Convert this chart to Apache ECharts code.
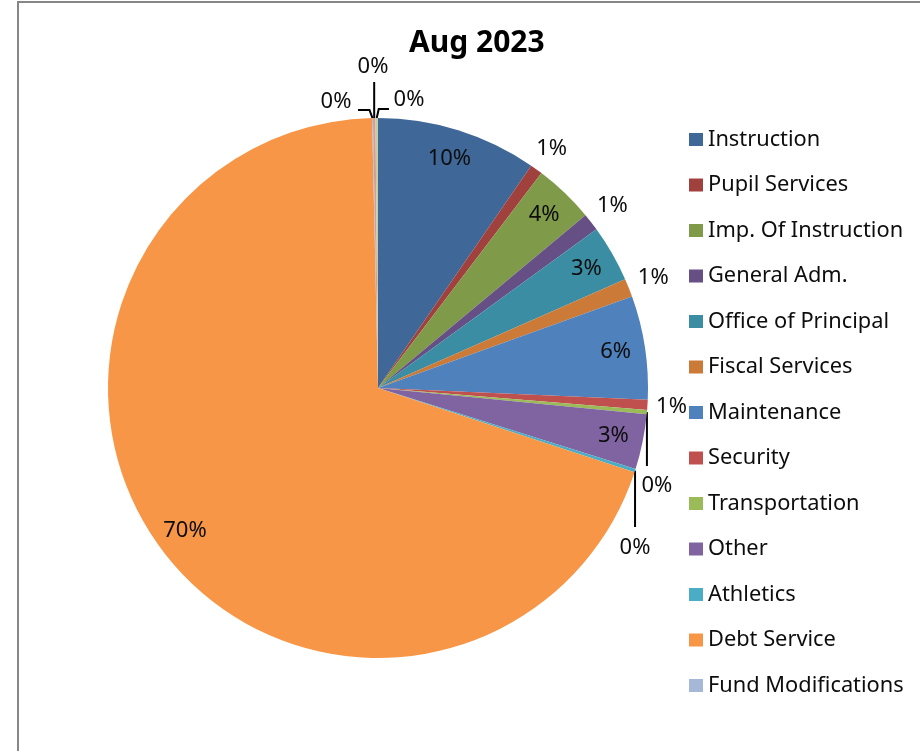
<!DOCTYPE html>
<html><head><meta charset="utf-8">
<script src="https://cdn.jsdelivr.net/npm/echarts@6/dist/echarts.min.js"></script>
<style>html,body{margin:0;padding:0;background:#fff}#c{width:920px;height:751px}</style>
</head><body><div id="c"></div>
<script>
const chartTitle = 'Aug 2023';
const categories = ['Instruction','Pupil Services','Imp. Of Instruction','General Adm.','Office of Principal','Fiscal Services','Maintenance','Security','Transportation','Other','Athletics','Debt Service','Fund Modifications','Unlisted A','Unlisted B'];
const values = [9.6, 0.75, 3.6, 1.05, 3.4, 1.1, 6.2, 0.6, 0.25, 3.3, 0.2, 69.6, 0.05, 0.15, 0.15];
const legendCategories = categories.slice(0, 13);
const colors = ['#3F6797','#A0413D','#7F9A48','#654F85','#3A8DA2','#CC7A38','#4F81BD','#C0504D','#9BBB59','#8064A2','#4BACC6','#F79646','#A5B8D8','#D99A98','#C3D09E'];

const CX = 378, CY = 388, R = 270;
const total = values.reduce((a, b) => a + b, 0);
const mids = []; let acc = 0;
values.forEach(v => { mids.push((acc + v / 2) / total * 2 * Math.PI); acc += v; });
function pt(a, d) { return [CX + Math.sin(a) * d, CY - Math.cos(a) * d]; }

const insideIdx = [0, 2, 4, 6, 9, 11];
const lineIdx = [8, 10, 12, 13, 14];

function placement(i, w, h) {
  const e = pt(mids[i], R);
  if (insideIdx.includes(i)) return { c: pt(mids[i], R * 0.89) };
  if (i === 8) return { c: [e[0] + 10, CY + 98], line: [e, [e[0], CY + 78]] };
  if (i === 10) return { c: [e[0], CY + 160], line: [e, [e[0], CY + 139]] };
  if (i === 12) return { c: [CX - 42, CY - 286], line: [e, [e[0] - 3, CY - 278], [CX - 20, CY - 278]] };
  if (i === 13) return { c: [CX - 5, CY - 321], line: [e, [e[0], CY - 306]] };
  if (i === 14) return { c: [CX + 31, CY - 288], line: [e, [e[0] + 2, CY - 279], [CX + 11, CY - 279]] };
  const a = mids[i];
  const d = R + 8 + (w / 2) * Math.abs(Math.sin(a)) + (h / 2) * Math.abs(Math.cos(a));
  return { c: pt(a, d) };
}

const data = values.map((v, i) => ({
  name: categories[i],
  value: v,
  itemStyle: { color: colors[i] },
  label: { position: lineIdx.includes(i) ? 'outside' : 'inside' },
  labelLine: { show: lineIdx.includes(i) }
}));

const chart = echarts.init(document.getElementById('c'), null, { renderer: 'canvas' });
chart.setOption({
  animation: false,
  backgroundColor: '#fff',
  title: {
    text: chartTitle, left: 404, top: 23,
    textStyle: { fontFamily: 'Noto Sans', fontWeight: 'bold', fontSize: 30, color: '#000' }
  },
  legend: {
    data: legendCategories,
    orient: 'vertical', left: 684, top: 122.5,
    itemWidth: 14, itemHeight: 13, itemGap: 21.5,
    icon: 'rect', selectedMode: false,
    textStyle: { fontFamily: 'Noto Sans', fontSize: 21.8, lineHeight: 24, color: '#0d0d0d' }
  },
  graphic: [
    { type: 'line', shape: { x1: 18, y1: 2, x2: 18, y2: 751 }, style: { stroke: '#868686', lineWidth: 2 } },
    { type: 'line', shape: { x1: 17, y1: 2, x2: 920, y2: 2 }, style: { stroke: '#868686', lineWidth: 2 } }
  ],
  series: [{
    type: 'pie',
    center: [CX, CY], radius: R,
    startAngle: 90, clockwise: true,
    avoidLabelOverlap: false,
    minShowLabelAngle: 0,
    data: data,
    itemStyle: { borderWidth: 0 },
    label: {
      show: true, fontFamily: 'Noto Sans', fontSize: 22, color: '#0d0d0d',
      formatter: p => Math.round(p.value / total * 100) + '%'
    },
    labelLine: { show: false, length: 10, length2: 10, lineStyle: { color: '#000', width: 2 } },
    emphasis: { disabled: true },
    labelLayout: function (p) {
      const w = p.labelRect.width, h = p.labelRect.height;
      const pl = placement(p.dataIndex, w, h);
      let x = pl.c[0], y = pl.c[1];
      if (p.align === 'left') x -= w / 2; else if (p.align === 'right') x += w / 2;
      if (p.verticalAlign === 'top') y -= h / 2; else if (p.verticalAlign === 'bottom') y += h / 2;
      const out = { x: x, y: y };
      if (pl.line) out.labelLinePoints = pl.line;
      return out;
    }
  }]
});
</script></body></html>
